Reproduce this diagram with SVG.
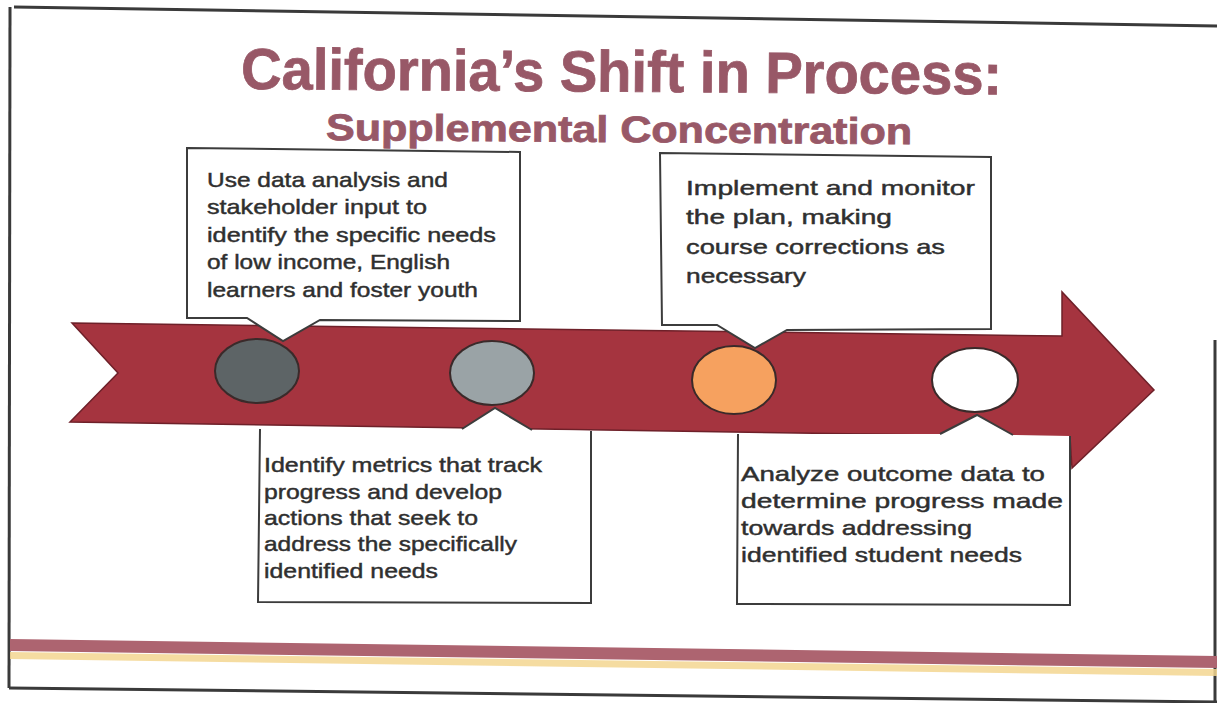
<svg xmlns="http://www.w3.org/2000/svg" width="1217" height="703" viewBox="0 0 1217 703">
<style>
.title{font-family:"Liberation Sans",Arial,sans-serif;font-weight:bold;fill:#985867;stroke:#985867;stroke-width:0.8}
.body{font-family:"Liberation Sans",Arial,sans-serif;font-size:21px;fill:#2f2f2f;stroke:#2f2f2f;stroke-width:0.45}
.box{fill:#ffffff;stroke:#3c3c3c;stroke-width:2;stroke-linejoin:miter}
.dot{stroke:#3a2a2a;stroke-width:2}
.frame{fill:none;stroke:#3a3a3a;stroke-width:3}
</style>
<rect width="1217" height="703" fill="#ffffff"/>
<g id="frame">
<polyline class="frame" points="14,7 1217,26"/>
<polyline class="frame" points="10,7 9,688"/>
<polyline class="frame" points="9,688 1217,702"/>
<polyline class="frame" points="1215,340 1215,703"/>
<polygon points="10,639 1217,656 1217,668 10,651" fill="#ad6470"/>
<polygon points="10,652 1217,669 1217,676 10,659" fill="#f3d690" opacity="0.85"/>
</g>
<g id="title">
<text class="title" x="241" y="89" font-size="58" textLength="761" lengthAdjust="spacingAndGlyphs" transform="rotate(0.4 241 89)">California’s Shift in Process:</text>
<text class="title" x="326" y="140" font-size="37" textLength="586" lengthAdjust="spacingAndGlyphs" transform="rotate(0.4 326 140)">Supplemental Concentration</text>
</g>
<g id="connectors">
<polygon id="arrow" points="72,323 1062,336 1062,292 1154,390 1072,468 1070,437 70,422 118,373" fill="#a5343f" stroke="#6e2029" stroke-width="1.5" stroke-linejoin="miter"/>
</g>
<g id="box1">
<path class="box" d="M187,148 L520,152 L520,321 L320,320 L283,341 L247,318 L187,318 Z"/>
<text class="body" x="207" y="187" textLength="241" lengthAdjust="spacingAndGlyphs">Use data analysis and</text>
<text class="body" x="207" y="214" textLength="220" lengthAdjust="spacingAndGlyphs">stakeholder input to</text>
<text class="body" x="207" y="242" textLength="289" lengthAdjust="spacingAndGlyphs">identify the specific needs</text>
<text class="body" x="207" y="269" textLength="243" lengthAdjust="spacingAndGlyphs">of low income, English</text>
<text class="body" x="207" y="297" textLength="271" lengthAdjust="spacingAndGlyphs">learners and foster youth</text>
</g>
<g id="box2">
<path d="M260,429 L462,429 L495,408 L532,430 L591,431 L591,603 L258,602 Z" fill="#ffffff"/>
<path class="box" fill="none" d="M462,429 L495,408 L532,430 M591,431 L591,603 L258,602 L260,429" style="fill:none"/>
<text class="body" x="264" y="472" textLength="278" lengthAdjust="spacingAndGlyphs">Identify metrics that track</text>
<text class="body" x="264" y="499" textLength="238" lengthAdjust="spacingAndGlyphs">progress and develop</text>
<text class="body" x="264" y="525" textLength="214" lengthAdjust="spacingAndGlyphs">actions that seek to</text>
<text class="body" x="264" y="551" textLength="253" lengthAdjust="spacingAndGlyphs">address the specifically</text>
<text class="body" x="264" y="578" textLength="174" lengthAdjust="spacingAndGlyphs">identified needs</text>
</g>
<g id="box3">
<path class="box" d="M660,153 L991,157 L991,329 L787,330 L755,348 L717,325 L662,325 Z"/>
<text class="body" x="686" y="195" textLength="289" lengthAdjust="spacingAndGlyphs">Implement and monitor</text>
<text class="body" x="686" y="224" textLength="206" lengthAdjust="spacingAndGlyphs">the plan, making</text>
<text class="body" x="686" y="254" textLength="259" lengthAdjust="spacingAndGlyphs">course corrections as</text>
<text class="body" x="686" y="283" textLength="120" lengthAdjust="spacingAndGlyphs">necessary</text>
</g>
<g id="box4">
<path d="M738,434 L940,434 L977,415 L1013,435 L1070,436 L1070,605 L737,604 Z" fill="#ffffff"/>
<path class="box" d="M940,434 L977,415 L1013,435 M1070,436 L1070,605 L737,604 L738,434" style="fill:none"/>
<text class="body" x="741" y="481" textLength="304" lengthAdjust="spacingAndGlyphs">Analyze outcome data to</text>
<text class="body" x="741" y="508" textLength="322" lengthAdjust="spacingAndGlyphs">determine progress made</text>
<text class="body" x="741" y="535" textLength="231" lengthAdjust="spacingAndGlyphs">towards addressing</text>
<text class="body" x="741" y="562" textLength="281" lengthAdjust="spacingAndGlyphs">identified student needs</text>
</g>
<g id="step1"><ellipse class="dot" cx="257" cy="371" rx="42" ry="32" fill="#5d6466"/></g>
<g id="step2"><ellipse class="dot" cx="492" cy="373" rx="42" ry="32" fill="#9aa3a6"/></g>
<g id="step3"><ellipse class="dot" cx="734" cy="380" rx="42" ry="34" fill="#f6a15f"/></g>
<g id="step4"><ellipse class="dot" cx="975" cy="380" rx="43" ry="32" fill="#ffffff"/></g>
</svg>
